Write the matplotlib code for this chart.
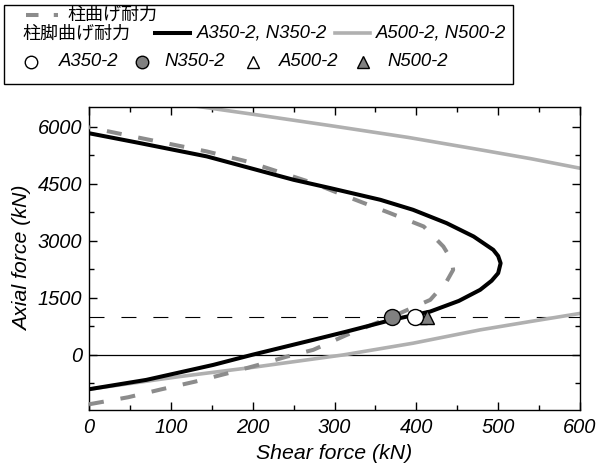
import matplotlib
matplotlib.use('Agg')
import matplotlib.pyplot as plt
from matplotlib.lines import Line2D
from matplotlib.patches import Rectangle
from matplotlib.ticker import MultipleLocator

plt.rcParams['font.family'] = ['Liberation Sans', 'Noto Sans CJK JP']
plt.rcParams['lines.scale_dashes'] = False

# 柱脚曲げ耐力 A350-2, N350-2 (black curve), shear force V vs axial force N
v_350 = [0, 70, 152, 199, 274, 315, 370, 417, 452, 478, 492, 500, 503, 500, 494,
         470, 437, 396, 356, 295, 250, 144, 60, 0]
n_350 = [-904, -658, -263, 0, 395, 614, 921, 1140, 1420, 1711, 1950, 2150, 2412,
         2600, 2763, 3114, 3465, 3816, 4079, 4386, 4605, 5220, 5580, 5830]

# 柱曲げ耐力 (grey dashed curve)
v_col = [0, 48, 89, 130, 170, 207, 242, 274, 315, 372, 417, 437, 445, 443, 433,
         409, 368, 315, 274, 193, 144, 64, 20, 0]
n_col = [-1300, -1114, -903, -702, -482, -263, -44, 132, 526, 1020, 1447, 1930,
         2237, 2500, 2851, 3377, 3728, 4167, 4518, 5088, 5351, 5700, 5895, 5990]

# 柱脚曲げ耐力 A500-2, N500-2 (light grey), two branches
v_500_up = [125, 200, 295, 390, 478, 540, 600]
n_500_up = [6560, 6330, 6030, 5720, 5395, 5160, 4910]
v_500_lo = [0, 111, 201, 311, 396, 478, 540, 600]
n_500_lo = [-904, -570, -325, 0, 307, 658, 880, 1090]

# test results at N = 1000 kN
n_test = 1000
v_a350 = 398
v_n350 = 370
v_a500 = 405
v_n500 = 413

BLACK = '#000000'
DGREY = '#8c8c8c'
LGREY = '#b0b0b0'
MGREY = '#808080'

W, H = 606, 472
fig = plt.figure(figsize=(W / 100, H / 100), dpi=100)
ax = fig.add_axes([89 / W, 1 - 410 / H, (580 - 89) / W, (410 - 107) / H])

ax.axhline(0, color=BLACK, lw=0.9, zorder=1)
ax.axhline(n_test, color=BLACK, lw=0.8, ls=(0, (10.8, 12.2)), zorder=1)

ax.plot(v_500_up, n_500_up, color=LGREY, lw=2.6, solid_joinstyle='round', zorder=2)
ax.plot(v_500_lo, n_500_lo, color=LGREY, lw=2.6, solid_joinstyle='round', zorder=2)
ax.plot(v_col, n_col, color=DGREY, lw=2.9, ls=(0, (10.8, 12.2)),
        dash_joinstyle='round', zorder=3)
ax.plot(v_350, n_350, color=BLACK, lw=2.9, solid_joinstyle='round', zorder=4)

ax.plot(v_a500, n_test, marker='^', ms=10, mfc='white', mec=BLACK, mew=1, zorder=5)
ax.plot(v_n500, n_test, marker='^', ms=10, mfc=MGREY, mec=BLACK, mew=1, zorder=6)
ax.plot(v_a350, n_test, marker='o', ms=11.5, mfc='white', mec=BLACK, mew=1, zorder=7)
ax.plot(v_n350, n_test, marker='o', ms=11.5, mfc=MGREY, mec=BLACK, mew=1, zorder=7)

ax.set_xlim(0, 600)
ax.set_ylim(-1450, 6520)
ax.xaxis.set_major_locator(MultipleLocator(100))
ax.xaxis.set_minor_locator(MultipleLocator(50))
ax.yaxis.set_major_locator(MultipleLocator(1500))
ax.yaxis.set_minor_locator(MultipleLocator(750))
ax.tick_params(which='both', direction='in', top=True, right=True, width=1,
               labelsize=14.4)
ax.tick_params(axis='x', pad=6)
ax.tick_params(axis='y', pad=5)
ax.tick_params(which='major', length=6)
ax.tick_params(which='minor', length=3.5)
for lbl in ax.get_xticklabels() + ax.get_yticklabels():
    lbl.set_style('italic')
for sp in ax.spines.values():
    sp.set_linewidth(1)

ax.set_xlabel('Shear force (kN)', fontsize=15.3, style='italic', labelpad=5)
ax.set_ylabel('Axial force (kN)', fontsize=15.3, style='italic', labelpad=4)


# legend box drawn in pixel coordinates
def fx(x):
    return x / W


def fy(y):
    return 1 - y / H


fig.add_artist(Rectangle((fx(4), fy(84)), fx(513) - fx(4), fy(5) - fy(84),
                         transform=fig.transFigure, fill=False, ec=BLACK, lw=1))

cjk = dict(family='Noto Sans CJK JP', fontsize=13, va='center')
lat = dict(fontsize=13.3, style='italic', va='center')

# row 1
fig.add_artist(Line2D([fx(26), fx(58)], [fy(15), fy(15)], color=DGREY, lw=2.9,
                      ls=(0, (9, 11))))
fig.text(fx(67), fy(15), '柱曲げ耐力', **cjk)

# row 2
fig.text(fx(22), fy(34), '柱脚曲げ耐力', **cjk)
fig.add_artist(Line2D([fx(155), fx(190)], [fy(33), fy(33)], color=BLACK, lw=2.9))
fig.text(fx(197), fy(33), 'A350-2, N350-2', **lat)
fig.add_artist(Line2D([fx(335), fx(370)], [fy(33), fy(33)], color=LGREY, lw=2.6))
fig.text(fx(376), fy(33), 'A500-2, N500-2', **lat)

# row 3
row3 = [(31, 'o', 'white', 'A350-2', 59), (142, 'o', MGREY, 'N350-2', 164),
        (253, '^', 'white', 'A500-2', 279), (363, '^', MGREY, 'N500-2', 387)]
for mx, mk, fc, txt, tx in row3:
    fig.add_artist(Line2D([fx(mx)], [fy(62)], marker=mk, ms=9, mfc=fc, mec=BLACK,
                          mew=1, ls='none'))
    fig.text(fx(tx), fy(62), txt, **lat)

fig.savefig('out.png', dpi=100)
